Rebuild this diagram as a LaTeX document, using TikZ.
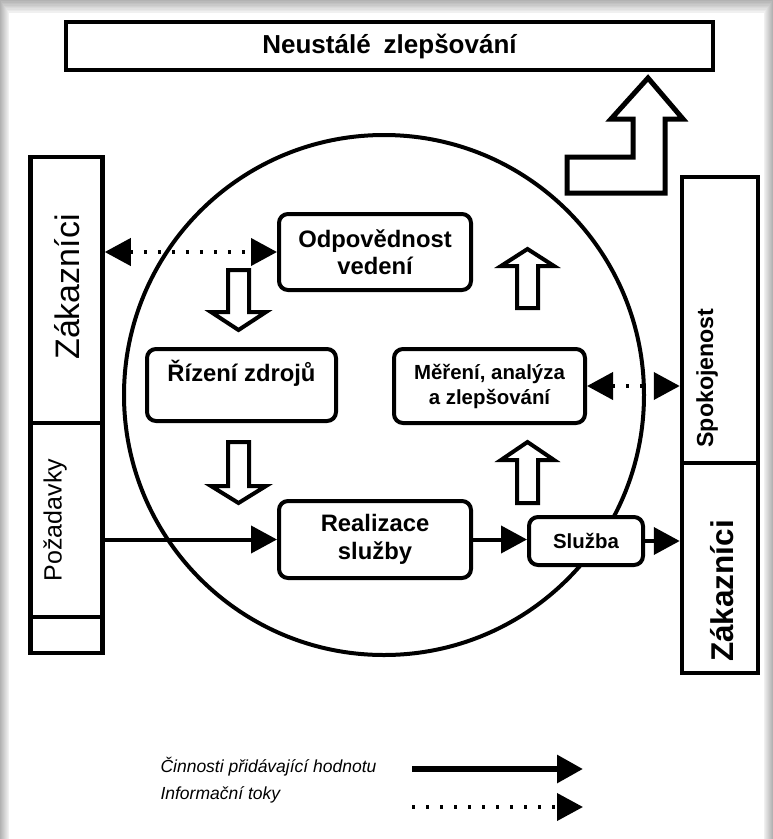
\documentclass[tikz,border=0pt]{standalone}
\usepackage{fontspec}
\setmainfont{Liberation Sans}
\usetikzlibrary{arrows.meta}
\begin{document}
\begin{tikzpicture}[x=1pt,y=-1pt,
  frame/.style={draw, line width=4.5pt, inner sep=0pt, fill=white},
  rbox/.style={draw, line width=4pt, rounded corners=9pt, inner sep=0pt, align=center, fill=white},
  tip/.tip={Triangle[length=26pt,width=27pt]},
  flow/.style={line width=4pt, -tip},
  info/.style={line width=4pt, dash pattern=on 3pt off 11pt},
  biinfo/.style={info, tip-tip},
  blk/.style={draw, line width=4pt, fill=white, line join=miter},
  boxfont/.style={font=\bfseries\fontsize{23.8}{27.5}\selectfont},
  smallfont/.style={font=\bfseries\fontsize{20.4}{25}\selectfont},
]
\useasboundingbox (0,0) rectangle (773,839);
% page shadow
\foreach \i in {0,...,8} {
  \pgfmathtruncatemacro\g{30-3*\i}
  \fill[black!\g] (\i,1.4*\i) rectangle (773-\i,839);
}
\fill[white] (9,13) rectangle (764,839);

% top box
\node[frame, minimum width=647pt, minimum height=48pt,
      font=\bfseries\fontsize{26}{26}\selectfont] (top) at (389.5,46) {Neustálé\hspace{0.5em}zlepšování};
% L-shaped arrow
\draw[blk, line width=5pt] (648,78) -- (683,119) -- (665,119) -- (665,193) -- (567,193)
  -- (567,157) -- (633,157) -- (633,119) -- (611,119) -- cycle;

% left column
\node[frame, minimum width=72pt, minimum height=266pt] (lz) at (66.5,290) {};
\node[frame, minimum width=72pt, minimum height=194pt] (lp) at (66.5,520) {};
\node[frame, minimum width=72pt, minimum height=36pt] (lb) at (66.5,635) {};
\node[rotate=90, font=\fontsize{34}{34}\selectfont] (lzt) at (67.5,287) {Zákazníci};
\node[rotate=90, font=\fontsize{25}{25}\selectfont] (lpt) at (55,520) {Požadavky};

% right column
\node[frame, minimum width=76pt, minimum height=286pt] (rs) at (720,320) {};
\node[frame, minimum width=76pt, minimum height=210pt] (rz) at (720,568) {};
\node[rotate=90, font=\bfseries\fontsize{23.2}{23}\selectfont] (rst) at (707,378) {Spokojenost};
\node[rotate=90, font=\bfseries\fontsize{31.5}{31}\selectfont] (rzt) at (722,591) {Zákazníci};

% circle
\node[draw, circle, line width=4pt, minimum size=520pt, inner sep=0pt] (circ) at (384,395) {};

% process boxes
\node[rbox, boxfont, minimum width=192pt, minimum height=76pt] (od) at (375,252) {Odpovědnost\\vedení};
\node[rbox, minimum width=189pt, minimum height=72pt] (rzd) at (241.5,385) {};
\node[boxfont] (rzdt) at ([yshift=12pt]rzd.center) {Řízení zdrojů};
\node[rbox, smallfont, minimum width=191pt, minimum height=74pt] (me) at (489.5,386) {Měření, analýza\\a zlepšování};
\node[rbox, boxfont, minimum width=192pt, minimum height=77pt] (re) at (375,539.5) {Realizace\\služby};
\node[rbox, smallfont, minimum width=114pt, minimum height=48pt] (sl) at (586,541) {Služba};

% hollow block arrows
\draw[blk] (228,270) -- (249,270) -- (249,312) -- (266,312) -- (238.5,330) -- (211,312) -- (228,312) -- cycle;
\draw[blk] (228,442) -- (249,442) -- (249,486) -- (266,486) -- (238.5,503) -- (211,486) -- (228,486) -- cycle;
\draw[blk] (517,308) -- (538,308) -- (538,266) -- (554,266) -- (527.5,249) -- (501,266) -- (517,266) -- cycle;
\draw[blk] (517,503) -- (538,503) -- (538,460) -- (554,460) -- (527.5,442) -- (501,460) -- (517,460) -- cycle;

% connectors
\draw[biinfo] (od.west -| lz.east) -- (od.west);
\draw[flow] (re.west -| lp.east) -- (re.west);
\draw[flow] (re.east) -- (re.east -| sl.west);
\draw[flow] (sl.east) -- (sl.east -| rz.west);
\draw[biinfo] (me.east) -- (me.east -| rs.west);

% legend
\node[anchor=west, font=\itshape\fontsize{17.5}{20}\selectfont] (lg1) at (157,767) {Činnosti přidávající hodnotu};
\node[anchor=west, font=\itshape\fontsize{17.5}{20}\selectfont] (lg2) at (157,795) {Informační toky};
\coordinate (a1) at (412,769);
\coordinate (b1) at (583,769);
\coordinate (a2) at (412,807);
\coordinate (b2) at (583,807);
\draw[flow, line width=6pt] (a1) -- (b1);
\draw[info, -tip] (a2) -- (b2);
\end{tikzpicture}
\end{document}
